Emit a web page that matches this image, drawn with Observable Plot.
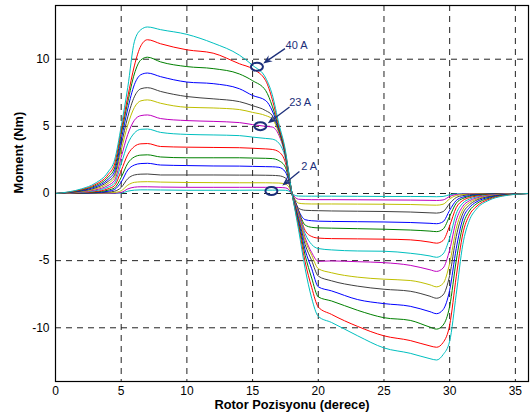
<!DOCTYPE html>
<html><head><meta charset="utf-8">
<script src="https://cdn.jsdelivr.net/npm/d3@7"></script>
<script src="https://cdn.jsdelivr.net/npm/@observablehq/plot@0.6"></script>
<style>
body{margin:0;background:#fff;}
#chart svg{display:block;}
</style></head><body><div id="chart"></div>
<script>
// Rotor position (degrees) sample points
const xs = [0,1,2,3,4,4.5,5,5.5,6,6.5, 7,8,10,12,14,15,16,16.5,17,17.5, 17.75,18,18.25,18.5,19,19.5,20,21,23,25, 27,28.5,29,29.5,30,30.5,31,31.5,32,33, 34,36];

// Moment (Nm) for each phase current, from highest (40 A) to lowest (2 A)
const curve01 = [0,0.12,0.35,0.75,1.6,2.5,5.0,7.9,11.3,12.2, 12.4,12.2,11.85,11.2,10.3,9.55,8.6,7.35,5.2,3.2, 1.6,0,-1.35,-2.7,-5.6,-7.8,-9.15,-9.6,-10.6,-11.5, -11.9,-12.3,-12.4,-12.0,-11.0,-7.5,-3.8,-2.0,-1.2,-0.5, -0.2,0];
const curve02 = [0,0.1,0.3,0.65,1.4,2.2,4.7,7.2,9.5,11.0, 11.45,11.15,10.7,10.45,9.66,9.28,8.4,7.0,5.0,3.05, 1.55,0,-1.25,-2.45,-5.1,-7.0,-8.45,-9.0,-9.9,-10.6, -10.95,-11.35,-11.45,-11.1,-9.8,-6.2,-3.0,-1.6,-1.0,-0.42, -0.17,0];
const curve03 = [0,0.09,0.26,0.56,1.22,1.9,4.4,6.8,8.9,9.95, 10.15,9.8,9.45,9.3,8.9,8.4,7.66,6.5,4.85,2.95, 1.5,0,-1.15,-2.25,-4.6,-6.3,-7.7,-8.0,-8.7,-9.25, -9.45,-9.95,-10.1,-9.8,-8.4,-5.0,-2.4,-1.3,-0.8,-0.35, -0.14,0];
const curve04 = [0,0.08,0.22,0.48,1.05,1.65,4.0,6.3,8.1,8.85, 8.97,8.7,8.3,8.18,7.8,7.3,6.92,6.15,4.75,2.9, 1.45,0,-1.05,-2.05,-4.2,-5.6,-6.95,-7.25,-7.9,-8.2, -8.4,-8.8,-8.95,-8.65,-7.2,-4.1,-1.9,-1.05,-0.65,-0.28, -0.11,0];
const curve05 = [0,0.06,0.18,0.4,0.9,1.4,3.6,5.7,7.2,7.8, 7.88,7.6,7.22,7.05,6.84,6.54,6.17,5.8,4.65,2.85, 1.42,0,-0.95,-1.85,-3.8,-5.0,-6.15,-6.5,-6.9,-7.13, -7.28,-7.65,-7.8,-7.55,-6.1,-3.2,-1.5,-0.85,-0.52,-0.23, -0.09,0];
const curve06 = [0,0.05,0.15,0.33,0.75,1.2,3.2,5.1,6.4,6.9, 6.97,6.72,6.42,6.37,6.25,6.04,5.8,5.55,4.5,2.8, 1.4,0,-0.88,-1.7,-3.5,-4.6,-5.6,-5.9,-6.23,-6.38, -6.48,-6.8,-6.95,-6.7,-5.2,-2.6,-1.2,-0.68,-0.43,-0.19, -0.07,0];
const curve07 = [0,0.04,0.12,0.26,0.6,0.98,2.7,4.4,5.45,5.8, 5.85,5.58,5.43,5.37,5.28,5.13,5.0,4.95,4.35,2.75, 1.37,0,-0.8,-1.55,-3.3,-4.4,-5.05,-5.02,-5.08,-5.15, -5.35,-5.68,-5.8,-5.55,-4.2,-2.0,-0.95,-0.54,-0.35,-0.15, -0.06,0];
const curve08 = [0,0.03,0.09,0.2,0.47,0.78,2.2,3.7,4.5,4.78, 4.8,4.55,4.4,4.36,4.31,4.2,4.1,4.05,3.75,2.6, 1.3,0,-0.75,-1.45,-3.0,-3.8,-4.1,-4.2,-4.28,-4.3, -4.45,-4.65,-4.75,-4.5,-3.3,-1.5,-0.72,-0.42,-0.27,-0.12, -0.05,0];
const curve09 = [0,0.02,0.06,0.14,0.35,0.6,1.7,2.9,3.5,3.7, 3.72,3.5,3.45,3.43,3.41,3.37,3.32,3.28,3.1,2.3, 1.2,0,-0.7,-1.35,-2.75,-3.2,-3.32,-3.36,-3.38,-3.4, -3.45,-3.62,-3.7,-3.5,-2.4,-1.05,-0.52,-0.31,-0.2,-0.09, -0.04,0];
const curve10 = [0,0.01,0.04,0.1,0.25,0.42,1.2,2.25,2.72,2.86, 2.88,2.72,2.66,2.66,2.66,2.64,2.62,2.6,2.45,1.95, 1.05,0,-0.65,-1.3,-2.35,-2.52,-2.56,-2.58,-2.62,-2.66, -2.72,-2.8,-2.84,-2.65,-1.7,-0.72,-0.37,-0.22,-0.14,-0.06, -0.03,0];
const curve11 = [0,0.01,0.03,0.06,0.17,0.3,0.85,1.75,2.12,2.23, 2.25,2.12,2.08,2.05,2.04,2.02,2.0,1.99,1.95,1.6, 0.95,0,-0.6,-1.25,-1.95,-2.03,-2.06,-2.08,-2.1,-2.12, -2.16,-2.22,-2.25,-2.1,-1.25,-0.52,-0.27,-0.16,-0.1,-0.05, -0.02,0];
const curve12 = [0,0,0.02,0.04,0.1,0.17,0.45,1.1,1.38,1.44, 1.45,1.38,1.38,1.38,1.37,1.37,1.36,1.35,1.32,1.15, 0.75,0,-0.6,-1.1,-1.25,-1.27,-1.28,-1.3,-1.32,-1.34, -1.38,-1.44,-1.46,-1.35,-0.75,-0.3,-0.16,-0.09,-0.06,-0.03, -0.01,0];
const curve13 = [0,0,0.01,0.02,0.05,0.08,0.2,0.62,0.83,0.87, 0.88,0.85,0.82,0.81,0.8,0.8,0.8,0.79,0.78,0.7, 0.5,0,-0.45,-0.72,-0.77,-0.78,-0.78,-0.78,-0.79,-0.8, -0.82,-0.86,-0.87,-0.8,-0.4,-0.15,-0.08,-0.05,-0.03,-0.01, 0,0];
const curve14 = [0,0,0,0.01,0.02,0.03,0.08,0.34,0.47,0.5, 0.5,0.48,0.46,0.46,0.46,0.46,0.46,0.46,0.45,0.42, 0.3,0,-0.3,-0.43,-0.45,-0.46,-0.46,-0.46,-0.47,-0.48, -0.49,-0.51,-0.52,-0.48,-0.22,-0.07,-0.04,-0.02,-0.01,0, 0,0];
const curve15 = [0,0,0,0,0,0.01,0.03,0.17,0.25,0.27, 0.27,0.26,0.24,0.24,0.24,0.25,0.25,0.25,0.25,0.24, 0.18,0,-0.15,-0.19,-0.2,-0.2,-0.2,-0.2,-0.21,-0.22, -0.22,-0.23,-0.24,-0.22,-0.09,-0.03,-0.01,0,0,0, 0,0];

const curves = [curve01,curve02,curve03,curve04,curve05,curve06,curve07,curve08,curve09,curve10,curve11,curve12,curve13,curve14,curve15];
const curveColors = ["#00BFBF","#FF0000","#008000","#0000FF","#404040","#BFBF00","#BF00BF","#00BFBF","#FF0000","#008000","#0000FF","#404040","#BFBF00","#BF00BF","#00BFBF"];

const xTicks = [0,5,10,15,20,25,30,35];
const yTicks = [-10,-5,0,5,10];
const xGrid = [5,10,15,20,25,30,35];

const noteLabels = ["40 A","23 A","2 A"];
const noteMarkX = [15.37,15.63,16.47];
const noteMarkY = [9.4,4.98,0.15];
const noteTextX = [18.35,18.62,19.3];
const noteTextY = [11.0,6.8,2.0];
const noteFromX = [17.5,17.85,18.6];
const noteFromY = [10.75,6.4,1.6];
const noteToX = [15.85,16.2,17.3];
const noteToY = [9.65,5.2,0.55];

const xLabel = "Rotor Pozisyonu (derece)";
const yLabel = "Moment (Nm)";

const notes = noteLabels.map((label,i)=>({label, mx:noteMarkX[i], my:noteMarkY[i], tx:noteTextX[i], ty:noteTextY[i], x1:noteFromX[i], y1:noteFromY[i], x2:noteToX[i], y2:noteToY[i]}));

const navy = "#1c2f7a";
const lineMarks = [];
for (let k = curves.length - 1; k >= 0; k--) {
  const data = xs.map((x,i)=>({pos:x, moment:curves[k][i]}));
  lineMarks.push(Plot.line(data, {x:"pos", y:"moment", stroke:curveColors[k], strokeWidth:1, curve:"monotone-x"}));
}

const chart = Plot.plot({
  width: 530, height: 419,
  marginLeft: 55, marginRight: 2, marginTop: 5, marginBottom: 38,
  style: {fontFamily: "'Liberation Sans', Arial, sans-serif", fontSize: "12px", color: "#000", background: "#fff"},
  x: {domain: [0,36], ticks: xTicks, tickSize: 0, tickPadding: 5, label: null, tickFormat: d => String(d)},
  y: {domain: [-14,14], ticks: yTicks, tickSize: 0, tickPadding: 6, label: null, tickFormat: d => String(d)},
  marks: [
    Plot.ruleX(xGrid, {stroke:"#222", strokeWidth:1, strokeDasharray:"6,5"}),
    Plot.ruleY(yTicks, {stroke:"#222", strokeWidth:1, strokeDasharray:"6,5"}),
    ...lineMarks,
    Plot.frame({stroke:"#000", strokeWidth:1.2}),
    (index, scales) => {
      const g = d3.create("svg:g");
      for (const n of notes) {
        const ax = scales.x(n.x1), ay = scales.y(n.y1), bx = scales.x(n.x2), by = scales.y(n.y2);
        const len = Math.hypot(bx-ax, by-ay), ux = (bx-ax)/len, uy = (by-ay)/len;
        const hl = 9, hw = 3.6;
        g.append("line").attr("x1", ax).attr("y1", ay).attr("x2", bx-ux*hl*0.7).attr("y2", by-uy*hl*0.7)
          .attr("stroke", navy).attr("stroke-width", 1.3);
        const p = [[bx,by],[bx-ux*hl-uy*hw, by-uy*hl+ux*hw],[bx-ux*hl*0.65, by-uy*hl*0.65],[bx-ux*hl+uy*hw, by-uy*hl-ux*hw]];
        g.append("polygon").attr("points", p.map(q=>q.join(",")).join(" ")).attr("fill", navy);
        g.append("ellipse").attr("cx", scales.x(n.mx)).attr("cy", scales.y(n.my))
          .attr("rx", 6).attr("ry", 4).attr("fill","none").attr("stroke", navy).attr("stroke-width", 2);
      }
      return g.node();
    },
    Plot.text(notes, {x:"tx", y:"ty", text:"label", fill:navy, fontSize:11}),
    Plot.text([xLabel], {frameAnchor:"bottom", dy:27, text:d=>d, fontWeight:"bold", fontSize:12.8}),
    Plot.text([yLabel], {frameAnchor:"left", dx:-37, rotate:-90, text:d=>d, fontWeight:"bold", fontSize:12.8})
  ]
});
document.getElementById("chart").appendChild(chart);
</script>
</body></html>
